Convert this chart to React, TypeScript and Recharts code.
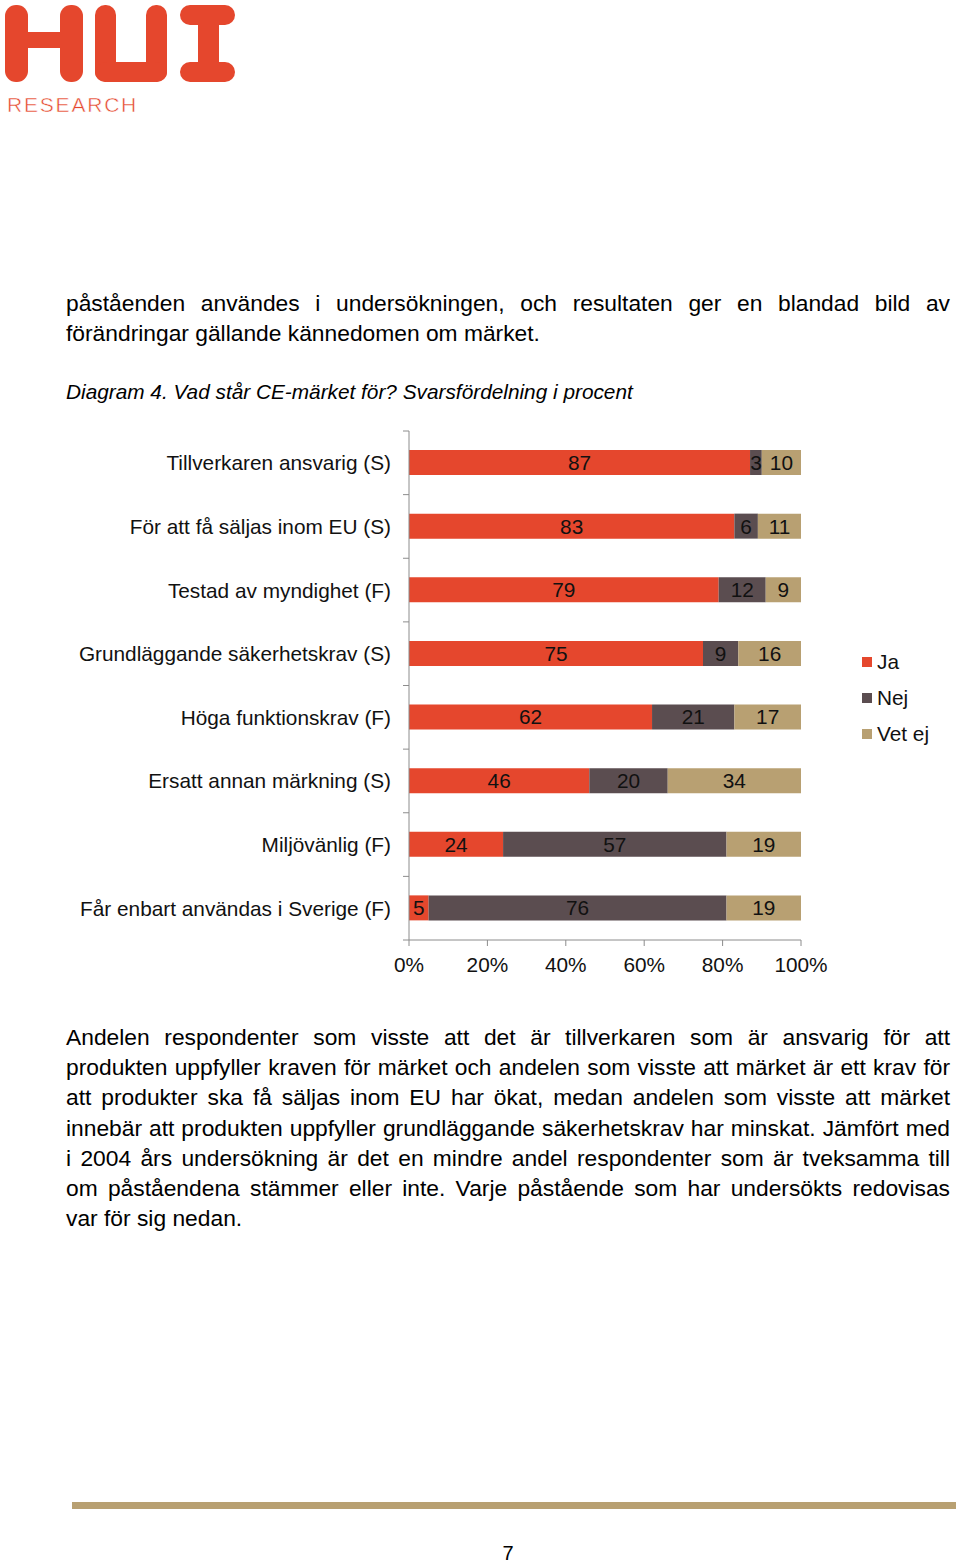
import React from 'react'
import { BarChart, Bar, XAxis, YAxis, Legend, LabelList } from 'recharts'

const categories = [
  'Tillverkaren ansvarig (S)',
  'För att få säljas inom EU (S)',
  'Testad av myndighet (F)',
  'Grundläggande säkerhetskrav (S)',
  'Höga funktionskrav (F)',
  'Ersatt annan märkning (S)',
  'Miljövänlig (F)',
  'Får enbart användas i Sverige (F)',
]
const ja = [87, 83, 79, 75, 62, 46, 24, 5]
const nej = [3, 6, 12, 9, 21, 20, 57, 76]
const vetEj = [10, 11, 9, 16, 17, 34, 19, 19]
const xTicks = [0, 20, 40, 60, 80, 100]

const RED = '#E5472D'
const DARK = '#5B4D50'
const TAN = '#B8A072'
const AXIS = '#8c8c8c'
const FONT = '"Liberation Sans", Arial, sans-serif'

const CHART_W = 960
const CHART_H = 600
const MARGIN = { top: 31, right: 159, left: 0, bottom: 0 }
const Y_W = 409
const X_H = 60
const TICK_SIZE = 6
const Y_TICK_MARGIN = 12
const BAND = (CHART_H - MARGIN.top - MARGIN.bottom - X_H) / categories.length
const CHART_FONT = 20.8

const data = categories.map((name, i) => ({ name, ja: ja[i], nej: nej[i], vetEj: vetEj[i] }))

const intro = [
  'påståenden användes i undersökningen, och resultaten ger en blandad bild av',
  'förändringar gällande kännedomen om märket.',
]
const outro = [
  'Andelen respondenter som visste att det är tillverkaren som är ansvarig för att',
  'produkten uppfyller kraven för märket och andelen som visste att märket är ett krav för',
  'att produkter ska få säljas inom EU har ökat, medan andelen som visste att märket',
  'innebär att produkten uppfyller grundläggande säkerhetskrav har minskat. Jämfört med',
  'i 2004 års undersökning är det en mindre andel respondenter som är tveksamma till',
  'om påståendena stämmer eller inte.  Varje påstående som har undersökts redovisas',
  'var för sig nedan.',
]

function CategoryTick(props: any) {
  const { x, y, payload, index, visibleTicksCount } = props
  const half = BAND / 2
  const axisX = x + TICK_SIZE + Y_TICK_MARGIN
  return (
    <g>
      <line x1={axisX - TICK_SIZE} x2={axisX} y1={y - half} y2={y - half} stroke={AXIS} />
      {index === visibleTicksCount - 1 && (
        <line x1={axisX - TICK_SIZE} x2={axisX} y1={y + half} y2={y + half} stroke={AXIS} />
      )}
      <text x={x} y={y} dy="0.36em" textAnchor="end" fontSize={CHART_FONT} fill="#111">
        {payload.value}
      </text>
    </g>
  )
}

function renderLegend(props: any) {
  const { payload } = props
  return (
    <div style={{ fontFamily: FONT, fontSize: CHART_FONT, color: '#111' }}>
      {payload.map((entry: any) => (
        <div key={entry.value} style={{ display: 'flex', alignItems: 'center', height: 36 }}>
          <span style={{ width: 10, height: 10, background: entry.color, marginRight: 5, display: 'inline-block' }} />
          {entry.value}
        </div>
      ))}
    </div>
  )
}

function Paragraph({ lines, top, size, lineHeight }: { lines: string[]; top: number; size: number; lineHeight: number }) {
  return (
    <div style={{ position: 'absolute', left: 66, top, width: 884, fontSize: size, lineHeight: `${lineHeight}px`, color: '#000' }}>
      {lines.map((l, i) => (
        <div
          key={i}
          style={{ textAlign: 'justify', textAlignLast: i < lines.length - 1 ? 'justify' : 'left' }}
        >
          {l}
        </div>
      ))}
    </div>
  )
}

function Logo() {
  return (
    <svg width={250} height={120} style={{ position: 'absolute', left: 0, top: 0 }}>
      <g fill={RED}>
        {/* H */}
        <rect x={5} y={5} width={23} height={77} rx={11} />
        <rect x={60} y={5} width={23} height={77} rx={11} />
        <rect x={20} y={32} width={48} height={16} />
        {/* U */}
        <rect x={95} y={5} width={21} height={77} rx={10} />
        <rect x={146} y={5} width={21} height={77} rx={10} />
        <rect x={95} y={62} width={72} height={20} rx={12} />
        {/* I */}
        <rect x={180} y={5} width={55} height={20} rx={10} />
        <rect x={198} y={15} width={21} height={55} />
        <rect x={180} y={62} width={55} height={20} rx={10} />
      </g>
      <text x={7} y={112} fontSize={21} letterSpacing={1.8} fill={RED} fontFamily={FONT} stroke="#fff" strokeWidth={0.5}>
        RESEARCH
      </text>
    </svg>
  )
}

export default function App() {
  return (
    <div
      style={{
        position: 'absolute',
        left: 0,
        top: 0,
        width: 960,
        height: 1563,
        background: '#fff',
        overflow: 'hidden',
        fontFamily: FONT,
      }}
    >
      <Logo />
      <Paragraph lines={intro} top={288} size={22.8} lineHeight={30} />
      <div style={{ position: 'absolute', left: 66, top: 378, fontSize: CHART_FONT, fontStyle: 'italic', lineHeight: '28px' }}>
        Diagram 4. Vad står CE-märket för? Svarsfördelning i procent
      </div>

      <div style={{ position: 'absolute', left: 0, top: 400 }}>
        <BarChart width={CHART_W} height={CHART_H} data={data} layout="vertical" margin={MARGIN}>
          <XAxis
            type="number"
            domain={[0, 100]}
            ticks={xTicks}
            tickFormatter={(v: number) => `${v}%`}
            height={X_H}
            tickSize={TICK_SIZE}
            tickMargin={11}
            stroke={AXIS}
            tick={{ fill: '#111', fontSize: CHART_FONT }}
          />
          <YAxis
            type="category"
            dataKey="name"
            width={Y_W}
            tickSize={TICK_SIZE}
            tickMargin={Y_TICK_MARGIN}
            tickLine={false}
            stroke={AXIS}
            tick={<CategoryTick />}
            interval={0}
          />
          <Legend
            layout="vertical"
            align="center"
            verticalAlign="middle"
            content={renderLegend}
            wrapperStyle={{ left: 862, top: 244 }}
          />
          <Bar dataKey="ja" name="Ja" stackId="a" fill={RED} barSize={25} isAnimationActive={false}>
            <LabelList dataKey="ja" position="center" fill="#111" fontSize={CHART_FONT} />
          </Bar>
          <Bar dataKey="nej" name="Nej" stackId="a" fill={DARK} barSize={25} isAnimationActive={false}>
            <LabelList dataKey="nej" position="center" fill="#111" fontSize={CHART_FONT} />
          </Bar>
          <Bar dataKey="vetEj" name="Vet ej" stackId="a" fill={TAN} barSize={25} isAnimationActive={false}>
            <LabelList dataKey="vetEj" position="center" fill="#111" fontSize={CHART_FONT} />
          </Bar>
        </BarChart>
      </div>

      <Paragraph lines={outro} top={1022} size={22.8} lineHeight={30.2} />

      <div style={{ position: 'absolute', left: 72, top: 1502, width: 884, height: 7, background: TAN }} />
      <div style={{ position: 'absolute', left: 0, width: 1016, top: 1541, textAlign: 'center', fontSize: 20, lineHeight: '24px' }}>
        7
      </div>
    </div>
  )
}
